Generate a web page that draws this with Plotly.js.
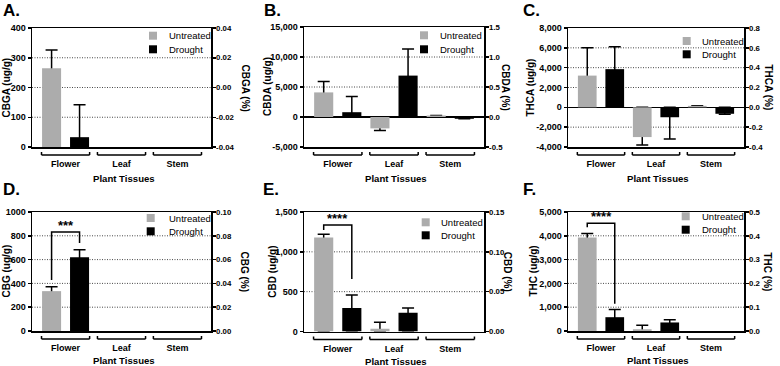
<!DOCTYPE html>
<html><head><meta charset="utf-8">
<script src="https://cdn.plot.ly/plotly-3.0.1.min.js"></script>
<style>html,body{margin:0;padding:0;background:#fff}#chart{width:780px;height:366px}</style>
</head><body><div id="chart"></div>
<script>
// ---------- DATA ----------
const categories = ['Flower', 'Leaf', 'Stem'];
const seriesNames = ['Untreated', 'Drought'];
const xAxisTitle = 'Plant Tissues';

// A. CBGA
const cbgaUntreated = [265, 0, 0];
const cbgaUntreatedErr = [61, 0, 0];
const cbgaDrought = [33, 0, 0];
const cbgaDroughtErr = [109, 0, 0];
const cbgaLeftTicks = [0, 100, 200, 300, 400];
const cbgaLeftLabels = ['0', '100', '200', '300', '400'];
const cbgaRightTicks = [-0.04, -0.02, 0, 0.02, 0.04];
const cbgaRightLabels = ['-0.04', '-0.02', '0.00', '0.02', '0.04'];

// B. CBDA
const cbdaUntreated = [4100, -1900, 250];
const cbdaUntreatedErr = [1830, 330, 0];
const cbdaDrought = [800, 6900, -300];
const cbdaDroughtErr = [2630, 4420, 0];
const cbdaLeftTicks = [-5000, 0, 5000, 10000, 15000];
const cbdaLeftLabels = ['-5,000', '0', '5,000', '10,000', '15,000'];
const cbdaRightTicks = [-0.5, 0, 0.5, 1.0, 1.5];
const cbdaRightLabels = ['-0.5', '0.0', '0.5', '1.0', '1.5'];

// C. THCA
const thcaUntreated = [3200, -3000, 150];
const thcaUntreatedErr = [2800, 800, 0];
const thcaDrought = [3850, -1000, -650];
const thcaDroughtErr = [2250, 2200, 60];
const thcaLeftTicks = [-4000, -2000, 0, 2000, 4000, 6000, 8000];
const thcaLeftLabels = ['-4,000', '-2,000', '0', '2,000', '4,000', '6,000', '8,000'];
const thcaRightTicks = [-0.4, -0.2, 0, 0.2, 0.4, 0.6, 0.8];
const thcaRightLabels = ['-0.4', '-0.2', '0.0', '0.2', '0.4', '0.6', '0.8'];

// D. CBG
const cbgUntreated = [335, 0, 0];
const cbgUntreatedErr = [37, 0, 0];
const cbgDrought = [620, 0, 0];
const cbgDroughtErr = [63, 0, 0];
const cbgLeftTicks = [0, 200, 400, 600, 800, 1000];
const cbgLeftLabels = ['0', '200', '400', '600', '800', '1000'];
const cbgRightTicks = [0, 0.02, 0.04, 0.06, 0.08, 0.10];
const cbgRightLabels = ['0.00', '0.02', '0.04', '0.06', '0.08', '0.10'];
const cbgSigY = [428, 832, 832, 739];
const cbgSigLabel = '***';

// E. CBD
const cbdUntreated = [1180, 35, 0];
const cbdUntreatedErr = [41, 80, 0];
const cbdDrought = [295, 236, 0];
const cbdDroughtErr = [163, 59, 0];
const cbdLeftTicks = [0, 500, 1000, 1500];
const cbdLeftLabels = ['0', '500', '1,000', '1,500'];
const cbdRightTicks = [0, 0.05, 0.10, 0.15];
const cbdRightLabels = ['0.00', '0.05', '0.10', '0.15'];
const cbdSigY = [1275, 1337, 1337, 660];
const cbdSigLabel = '****';

// F. THC
const thcUntreated = [3930, 73, 0];
const thcUntreatedErr = [170, 170, 0];
const thcDrought = [580, 359, 0];
const thcDroughtErr = [320, 111, 0];
const thcLeftTicks = [0, 1000, 2000, 3000, 4000, 5000];
const thcLeftLabels = ['0', '1,000', '2,000', '3,000', '4,000', '5,000'];
const thcRightTicks = [0, 0.1, 0.2, 0.3, 0.4, 0.5];
const thcRightLabels = ['0.0', '0.1', '0.2', '0.3', '0.4', '0.5'];
const thcSigY = [4360, 4530, 4530, 1150];
const thcSigLabel = '****';

// ---------- STYLE / LAYOUT ----------
const W = 780, H = 366;
const FONT = 'Liberation Sans, Arial, Helvetica, sans-serif';
const GRAY = '#acacac', BLACK = '#000000';
const BAR_W = 0.34, OFF_U = -0.42, OFF_D = 0.08;
const CTR_U = OFF_U + BAR_W / 2, CTR_D = OFF_D + BAR_W / 2;
const X_RANGE = [-0.6, 2.6];
const BRACKET_HALF = 0.43;
const xIdx = categories.map((c, i) => i);

const panels = [
  {letter: 'A.', lp: [1, 10.5], left: 'CBGA (ug/g)', right: 'CBGA (%)',
   u: cbgaUntreated, ue: cbgaUntreatedErr, d: cbgaDrought, de: cbgaDroughtErr,
   lt: cbgaLeftTicks, ll: cbgaLeftLabels, rt: cbgaRightTicks, rl: cbgaRightLabels,
   box: [32, 211, 28, 147], lts: -26, rts: 34, xts: -31, leg: [153, 167, 35.7, 49.3]},
  {letter: 'B.', lp: [262, 10.5], left: 'CBDA (ug/g)', right: 'CBDA (%)',
   u: cbdaUntreated, ue: cbdaUntreatedErr, d: cbdaDrought, de: cbdaDroughtErr,
   lt: cbdaLeftTicks, ll: cbdaLeftLabels, rt: cbdaRightTicks, rl: cbdaRightLabels,
   box: [304, 484, 27, 147], lts: -37, rts: 22, xts: -31, leg: [424, 438, 35.3, 49.3]},
  {letter: 'C.', lp: [521, 10.5], left: 'THCA (ug/g)', right: 'THCA (%)',
   u: thcaUntreated, ue: thcaUntreatedErr, d: thcaDrought, de: thcaDroughtErr,
   lt: thcaLeftTicks, ll: thcaLeftLabels, rt: thcaRightTicks, rl: thcaRightLabels,
   box: [568, 744, 28, 147], lts: -38, rts: 24, xts: -31, leg: [686.7, 700.3, 41, 54.3]},
  {letter: 'D.', lp: [1, 189], left: 'CBG (ug/g)', right: 'CBG (%)',
   u: cbgUntreated, ue: cbgUntreatedErr, d: cbgDrought, de: cbgDroughtErr,
   lt: cbgLeftTicks, ll: cbgLeftLabels, rt: cbgRightTicks, rl: cbgRightLabels,
   box: [32, 211, 212, 331], lts: -26, rts: 33, xts: -29.5, leg: [150.7, 166.7, 218, 231.3],
   sig: cbgSigY, sigLabel: cbgSigLabel},
  {letter: 'E.', lp: [261, 189], left: 'CBD (ug/g)', right: 'CBD (%)',
   u: cbdUntreated, ue: cbdUntreatedErr, d: cbdDrought, de: cbdDroughtErr,
   lt: cbdLeftTicks, ll: cbdLeftLabels, rt: cbdRightTicks, rl: cbdRightLabels,
   box: [304, 484, 212, 331.5], lts: -31, rts: 23, xts: -29.5, leg: [425.7, 438.7, 222.3, 235.3],
   sig: cbdSigY, sigLabel: cbdSigLabel},
  {letter: 'F.', lp: [521, 189], left: 'THC (ug/g)', right: 'THC (%)',
   u: thcUntreated, ue: thcUntreatedErr, d: thcDrought, de: thcDroughtErr,
   lt: thcLeftTicks, ll: thcLeftLabels, rt: thcRightTicks, rl: thcRightLabels,
   box: [568, 744, 212, 331], lts: -35, rts: 23, xts: -29.5, leg: [685.7, 700.3, 216.3, 229.7],
   sig: thcSigY, sigLabel: thcSigLabel}
];

function errParts(vals, errs) {
  // error bar from the bar tip outwards; the other side runs back to the baseline (hidden under the bar).
  // Points with neither a bar nor an error get no carrier value at all.
  const y = [], up = [], down = [];
  vals.forEach((v, i) => {
    if (v === 0 && errs[i] === 0) { y.push(null); up.push(0); down.push(0); }
    else if (v >= 0) { y.push(v); up.push(errs[i]); down.push(v); }
    else { y.push(v); up.push(-v); down.push(errs[i]); }
  });
  return {y, up, down};
}

const leftTickFont = {family: FONT, size: 9, weight: 'bold', color: BLACK};
const rightTickFont = {family: FONT, size: 7.8, weight: 'bold', color: BLACK};
const data = [];
const layout = {
  width: W, height: H, margin: {l: 0, r: 0, t: 0, b: 0},
  paper_bgcolor: '#fff', plot_bgcolor: 'rgba(0,0,0,0)',
  barmode: 'overlay', showlegend: false,
  font: {family: FONT, color: BLACK},
  shapes: [], annotations: []
};

panels.forEach((p, k) => {
  const n = k + 1;
  const xs = n === 1 ? '' : String(n);
  const ys = xs;
  const rs = String(n + 6);
  const xa = 'x' + xs, ya = 'y' + ys, yr = 'y' + rs;
  const [x0, x1, y0, y1] = p.box;
  const ph = y1 - y0;
  const yRange = [p.lt[0], p.lt[p.lt.length - 1]];
  const rRange = [p.rt[0], p.rt[p.rt.length - 1]];
  const hasNegative = yRange[0] < 0;

  // dotted grid lines at the inner, non-zero ticks (drawn below the bars)
  p.lt.slice(1, -1).filter(v => v !== 0).forEach(v => {
    layout.shapes.push({type: 'line', layer: 'below', xref: xa + ' domain', yref: ya,
      x0: 0, x1: 1, y0: v, y1: v, line: {color: '#333', width: 0.9, dash: '1px,1.5px'}});
  });

  const series = [
    {name: seriesNames[0], v: p.u, e: p.ue, off: OFF_U, color: GRAY},
    {name: seriesNames[1], v: p.d, e: p.de, off: OFF_D, color: BLACK}
  ];
  series.forEach(s => {
    const ep = errParts(s.v, s.e);
    // transparent carrier for the error bars, drawn first so the real bar covers the inner stem
    data.push({type: 'bar', x: xIdx, y: ep.y, xaxis: xa, yaxis: ya, width: BAR_W, offset: s.off,
      marker: {color: 'rgba(0,0,0,0)', line: {width: 0}}, hoverinfo: 'skip', showlegend: false,
      error_y: {type: 'data', symmetric: false, array: ep.up, arrayminus: ep.down,
                color: BLACK, thickness: 1.5, width: 6}});
  });
  series.forEach(s => {
    data.push({type: 'bar', name: s.name, x: xIdx, y: s.v.map(v => v === 0 ? null : v),
      xaxis: xa, yaxis: ya, width: BAR_W, offset: s.off,
      marker: {color: s.color, line: {width: 0}}, showlegend: false});
  });
  // empty trace that makes the secondary (%) axis render
  data.push({type: 'scatter', mode: 'markers', x: [null], y: [null], xaxis: xa, yaxis: yr,
    hoverinfo: 'skip', showlegend: false});

  if (p.sig) {
    data.push({type: 'scatter', mode: 'lines', x: [CTR_U, CTR_U, CTR_D, CTR_D], y: p.sig,
      xaxis: xa, yaxis: ya, line: {color: BLACK, width: 1.5}, hoverinfo: 'skip', showlegend: false});
    layout.annotations.push({xref: xa, yref: ya, x: (CTR_U + CTR_D) / 2, y: p.sig[1], text: p.sigLabel,
      showarrow: false, xanchor: 'center', yanchor: 'bottom', yshift: -3,
      font: {family: FONT, size: 13, weight: 'bold', color: BLACK}});
  }

  layout['xaxis' + xs] = {domain: [x0 / W, x1 / W], anchor: ya, range: X_RANGE,
    tickvals: xIdx, ticktext: categories, ticks: '', ticklabelstandoff: 8,
    showline: true, mirror: true, linecolor: BLACK, linewidth: 1.5,
    showgrid: false, zeroline: false, tickfont: leftTickFont, fixedrange: true};
  layout['yaxis' + ys] = {domain: [1 - y1 / H, 1 - y0 / H], anchor: xa, range: yRange,
    tickvals: p.lt, ticktext: p.ll, ticks: 'outside', ticklen: 3, tickwidth: 1.5, tickcolor: BLACK,
    showline: true, linecolor: BLACK, linewidth: 1.5, showgrid: false,
    zeroline: hasNegative, zerolinecolor: BLACK, zerolinewidth: 1.5,
    tickfont: leftTickFont, fixedrange: true};
  layout['yaxis' + rs] = {overlaying: ya, side: 'right', anchor: xa, range: rRange,
    tickvals: p.rt, ticktext: p.rl, ticks: 'outside', ticklen: 3, tickwidth: 1.5, tickcolor: BLACK,
    ticklabelstandoff: -1,
    showline: true, linecolor: BLACK, linewidth: 1.5, showgrid: false, zeroline: false,
    tickfont: rightTickFont, fixedrange: true};

  // category brackets below the axis
  const dyLine = -8 / ph, dyTick = -5 / ph;
  xIdx.forEach(i => {
    const a = i - BRACKET_HALF, b = i + BRACKET_HALF;
    const ln = {color: BLACK, width: 1.5};
    layout.shapes.push({type: 'line', xref: xa, yref: ya + ' domain', x0: a, x1: b, y0: dyLine, y1: dyLine, line: ln});
    layout.shapes.push({type: 'line', xref: xa, yref: ya + ' domain', x0: a, x1: a, y0: dyLine, y1: dyTick, line: ln});
    layout.shapes.push({type: 'line', xref: xa, yref: ya + ' domain', x0: b, x1: b, y0: dyLine, y1: dyTick, line: ln});
  });

  // axis titles
  const titleFont = {family: FONT, size: 10, weight: 'bold', color: BLACK};
  layout.annotations.push({xref: xa + ' domain', yref: ya + ' domain', x: 0, y: 0.5, xshift: p.lts,
    text: p.left, textangle: -90, showarrow: false, xanchor: 'center', yanchor: 'middle', font: titleFont});
  layout.annotations.push({xref: xa + ' domain', yref: ya + ' domain', x: 1, y: 0.5, xshift: p.rts,
    text: p.right, textangle: 90, showarrow: false, xanchor: 'center', yanchor: 'middle', font: titleFont});
  layout.annotations.push({xref: xa + ' domain', yref: ya + ' domain', x: 0.5, y: 0, xshift: 2, yshift: p.xts,
    text: xAxisTitle, showarrow: false, xanchor: 'center', yanchor: 'middle',
    font: {family: FONT, size: 9.6, weight: 'bold', color: BLACK}});

  // panel letter
  layout.annotations.push({xref: 'paper', yref: 'paper', x: p.lp[0] / W, y: 1 - p.lp[1] / H,
    text: p.letter, showarrow: false, xanchor: 'left', yanchor: 'middle',
    font: {family: FONT, size: 17, weight: 'bold', color: BLACK}});

  // legend
  const [sqx, tx, ly1, ly2] = p.leg;
  [[ly1, GRAY, seriesNames[0]], [ly2, BLACK, seriesNames[1]]].forEach(([ly, col, label]) => {
    layout.shapes.push({type: 'rect', xref: 'paper', yref: 'paper',
      x0: (sqx - 4) / W, x1: (sqx + 4) / W, y0: 1 - (ly + 4) / H, y1: 1 - (ly - 4) / H,
      fillcolor: col, line: {width: 0}});
    layout.annotations.push({xref: 'paper', yref: 'paper', x: tx / W, y: 1 - ly / H, text: label,
      showarrow: false, xanchor: 'left', yanchor: 'middle',
      font: {family: FONT, size: 9.5, color: BLACK}});
  });
});

Plotly.newPlot('chart', data, layout, {staticPlot: true, displayModeBar: false});
</script>
</body></html>
